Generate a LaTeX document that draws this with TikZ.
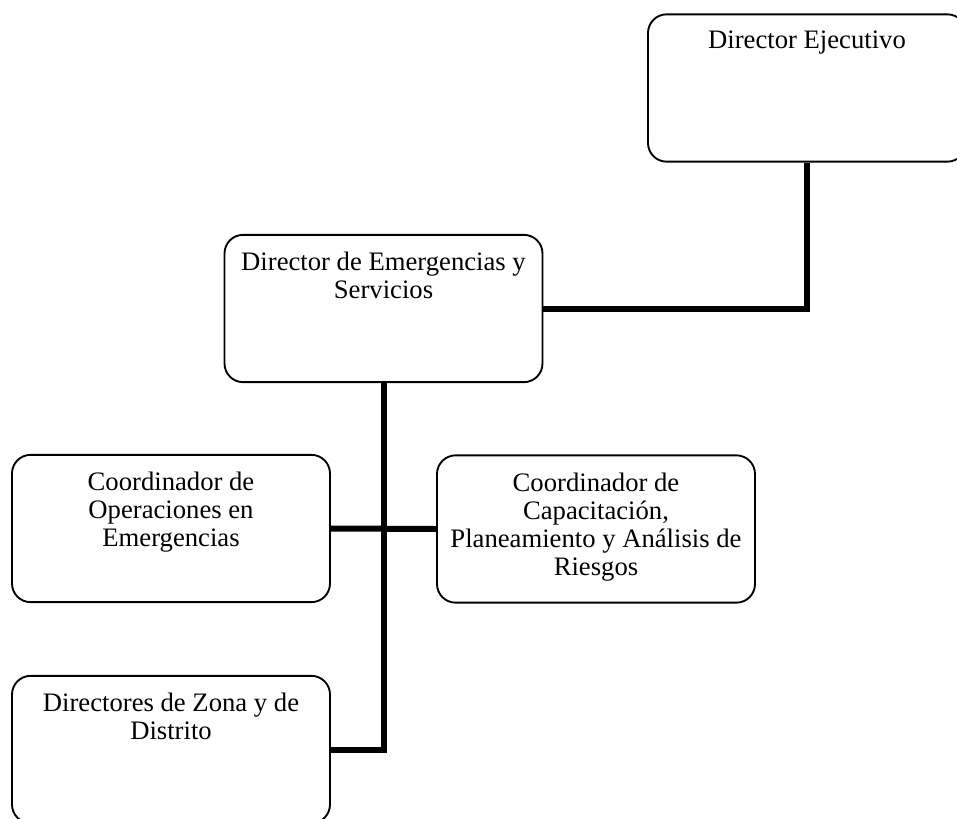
\documentclass[tikz,border=0pt]{standalone}
\usepackage{fontspec}
\setmainfont{Liberation Serif}
\begin{document}
\begin{tikzpicture}[x=0.75pt,y=-0.75pt,
  box/.style={draw, line width=1.4pt, rounded corners=14pt, inner sep=0pt,
              minimum width=238.5pt, minimum height=110.5pt},
  conn/.style={line width=4.5pt},
  lbl/.style={anchor=north, align=center, inner sep=0pt,
              font=\fontsize{20}{21}\selectfont}]
\useasboundingbox (0,0) rectangle (957,818);
\clip (0,0) rectangle (957,818);

\node[box] (ej)  at (807,88)    {};
\node[box] (dir) at (383.5,308.5) {};
\node[box] (ops) at (171,528.5) {};
\node[box] (cap) at (596,529)   {};
\node[box] (zon) at (171,749.5) {};

\node[lbl] (tej)  at ([yshift=-13pt]ej.north)  {Director Ejecutivo};
\node[lbl] (tdir) at ([yshift=-13.5pt]dir.north) {Director de Emergencias y\\Servicios};
\node[lbl] (tops) at ([yshift=-13.5pt]ops.north) {Coordinador de\\Operaciones en\\Emergencias};
\node[lbl] (tcap) at ([yshift=-13.5pt]cap.north) {Coordinador de\\Capacitación,\\Planeamiento y Análisis de\\Riesgos};
\node[lbl] (tzon) at ([yshift=-13.5pt]zon.north) {Directores de Zona y de\\Distrito};

\draw[conn] (ej.south) |- (dir.east);
\draw[conn] (dir.south) |- (zon.east);
\draw[conn] (ops.east) -- (cap.west);
\end{tikzpicture}
\end{document}
